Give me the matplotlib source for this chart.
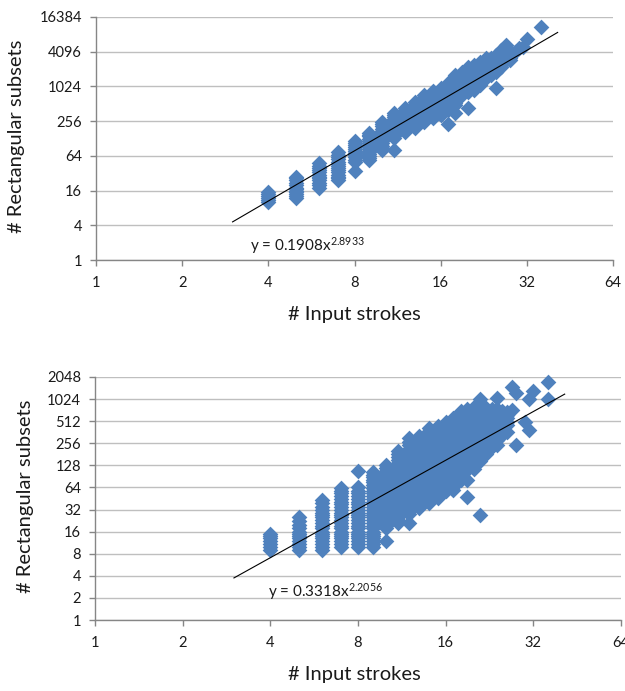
import numpy as np
import matplotlib
matplotlib.use("Agg")
import matplotlib.pyplot as plt
from matplotlib.ticker import FixedLocator, FixedFormatter, NullLocator

plt.rcParams['font.family'] = ['Lato', 'DejaVu Sans']
plt.rcParams['mathtext.fontset'] = 'custom'
plt.rcParams['mathtext.rm'] = 'Lato'
plt.rcParams['mathtext.it'] = 'Lato:italic'

# ---------------- data: top panel ----------------
top_strokes = [4, 5, 6, 7, 8, 9, 10, 11, 12, 13, 14, 15, 16, 17, 18, 19, 20,
               21, 22, 23, 24, 25, 26, 27, 28, 29, 30, 31, 32, 36]
top_subsets = [
    [10, 11, 12, 13, 14, 15],
    [12, 13, 14, 15, 16, 17, 18, 20, 22, 24, 26, 28],
    [18, 20, 22, 24, 26, 28, 30, 33, 36, 39, 43, 48],
    [24, 26, 28, 30, 33, 36, 39, 43, 47, 51, 56, 61, 67, 75],
    [35, 51, 55, 60, 65, 71, 77, 84, 92, 100, 108, 116],
    [54, 59, 64, 70, 76, 83, 90, 98, 107, 117, 128, 140, 150, 160],
    [81, 88, 96, 105, 114, 124, 135, 147, 160, 175, 190, 207, 226, 247],
    [81, 130, 142, 155, 169, 184, 200, 218, 238, 260, 283, 308, 330, 354],
    [166, 180, 196, 214, 233, 254, 277, 302, 329, 358, 395, 433],
    [195, 212, 231, 252, 275, 300, 327, 356, 388, 423, 461, 503, 549],
    [247, 270, 295, 322, 352, 385, 420, 459, 502, 548, 600, 660, 726],
    [290, 317, 346, 378, 413, 451, 493, 538, 588, 642, 701, 770, 852],
    [327, 357, 390, 426, 465, 508, 555, 606, 662, 723, 790, 870, 962],
    [226, 400, 437, 477, 521, 569, 622, 679, 742, 810, 885, 967, 1060, 1175],
    [354, 485, 530, 579, 632, 690, 754, 823, 899, 982, 1073, 1172, 1280,
     1400, 1500, 1615],
    [726, 793, 866, 946, 1033, 1128, 1232, 1346, 1470, 1605, 1700, 1820],
    [433, 820, 896, 978, 1068, 1167, 1274, 1392, 1520, 1660, 1813, 1980,
     2100, 2220],
    [880, 961, 1050, 1147, 1252, 1368, 1494, 1631, 1782, 1946, 2125, 2250,
     2400],
    [1075, 1174, 1282, 1400, 1529, 1670, 1824, 1992, 2175, 2375, 2550, 2710],
    [1430, 1562, 1705, 1863, 2034, 2222, 2426, 2650, 2894, 3050, 3190],
    [1615, 1764, 1926, 2104, 2298, 2509, 2740, 2993, 3190],
    [962, 1820, 1988, 2171, 2371, 2589, 2828, 3088, 3350, 3580],
    [2220, 2424, 2648, 2892, 3158, 3449, 3767, 4070, 4380],
    [2930, 3200, 3495, 3817, 4168, 4552, 4940, 5340],
    [2900, 3200, 3500, 3800],
    [4000],
    [4700],
    [4900],
    [6800],
    [11000],
]
top_coef, top_exp = 0.1908, 2.8933
top_eq = r'y = 0.1908x$^{2.8933}$'

# ---------------- data: bottom panel ----------------
bot_strokes = [4, 5, 6, 7, 8, 9, 10, 11, 12, 13, 14, 15, 16, 17, 18, 19, 20,
               21, 22, 23, 24, 25, 26, 27, 28, 30, 31, 32, 36]
bot_subsets = [
    [9, 10, 11, 12, 13, 14, 15],
    [9, 10, 11, 12, 13, 14, 15, 16, 18, 20, 22, 25],
    [9, 10, 11, 12, 13, 14, 15, 16, 18, 19, 21, 23, 25, 27, 29, 32, 35, 39,
     43],
    [10, 11, 12, 13, 14, 15, 16, 18, 19, 21, 23, 25, 27, 29, 32, 35, 38, 41,
     45, 49, 53, 58, 63],
    [10, 11, 12, 13, 14, 15, 16, 18, 19, 21, 23, 25, 27, 29, 32, 35, 38, 41,
     45, 49, 53, 58, 65, 108],
    [10, 11, 12, 13, 14, 15, 16, 18, 19, 21, 23, 25, 27, 29, 32, 35, 38, 41,
     45, 49, 53, 58, 63, 69, 75, 82, 89, 96, 104],
    [12, 18, 19, 21, 23, 25, 27, 29, 32, 35, 38, 41, 45, 49, 53, 58, 63, 69,
     75, 82, 89, 97, 106, 117, 129],
    [21, 23, 25, 27, 29, 32, 35, 38, 41, 45, 49, 53, 58, 63, 69, 75, 82, 89,
     97, 106, 116, 127, 139, 152, 166, 182, 200],
    [21, 28, 31, 35, 39, 44, 49, 55, 62, 69, 77, 86, 97, 108, 121, 136, 152,
     170, 191, 214, 240, 268, 300],
    [34, 38, 43, 48, 54, 60, 67, 75, 84, 94, 106, 118, 132, 148, 166, 186,
     208, 233, 261, 290, 320],
    [39, 44, 49, 55, 62, 69, 77, 86, 97, 108, 121, 136, 152, 170, 191, 214,
     240, 268, 300, 336, 372, 413],
    [46, 52, 58, 65, 72, 81, 91, 102, 114, 128, 143, 160, 179, 201, 225, 252,
     282, 316, 354, 396, 440],
    [58, 65, 73, 81, 91, 102, 114, 128, 143, 160, 180, 201, 225, 252, 283,
     316, 354, 397, 444, 496],
    [59, 65, 73, 82, 92, 103, 115, 129, 144, 162, 181, 203, 227, 254, 285,
     319, 357, 400, 448, 500, 560],
    [80, 90, 100, 112, 126, 141, 158, 177, 198, 222, 249, 279, 312, 350, 392,
     439, 491, 550, 620, 700],
    [48, 80, 110, 123, 138, 155, 173, 194, 217, 243, 273, 305, 342, 383, 429,
     480, 538, 602, 670, 740],
    [115, 129, 144, 162, 181, 203, 227, 254, 285, 319, 357, 400, 448, 502,
     562, 630, 710, 800],
    [27, 145, 162, 182, 204, 228, 255, 286, 320, 359, 402, 450, 504, 564, 632,
     700, 780, 1024],
    [180, 202, 226, 253, 283, 317, 355, 398, 446, 499, 559, 626, 700, 780],
    [230, 258, 289, 323, 362, 405, 454, 508, 569, 637, 700, 760],
    [242, 280, 314, 351, 393, 441, 493, 553, 619, 680, 740, 1050],
    [330, 370, 414, 464, 520, 582, 640, 700],
    [363, 450, 504, 564, 620, 680],
    [724, 1490],
    [242, 1235],
    [496],
    [388, 1024],
    [1300],
    [1024, 1740],
]
bot_coef, bot_exp = 0.3318, 2.2056
bot_eq = r'y = 0.3318x$^{2.2056}$'

x_ticks = [1, 2, 4, 8, 16, 32, 64]
top_y_ticks = [1, 4, 16, 64, 256, 1024, 4096, 16384]
bot_y_ticks = [1, 2, 4, 8, 16, 32, 64, 128, 256, 512, 1024, 2048]
trend_range = [3, 41]

xlabel = '# Input strokes'
ylabel = '# Rectangular subsets'

MARKER_COLOR = '#4F81BD'
GRID_COLOR = '#BFBFBF'
AXIS_COLOR = '#868686'
TEXT_COLOR = '#1a1a1a'

fig = plt.figure(figsize=(6.25, 6.91), dpi=100)
ax1 = fig.add_axes([96 / 625, (691 - 260) / 691, 517 / 625, 243 / 691])
ax2 = fig.add_axes([95 / 625, (691 - 620) / 691, 526 / 625, 243 / 691])


def draw(ax, strokes, subsets, coef, expo, yticks, eq, eq_pos, xl_pos, yl_pos):
    ax.set_xscale('log', base=2)
    ax.set_yscale('log', base=2)
    ax.set_xlim(x_ticks[0], x_ticks[-1])
    ax.set_ylim(yticks[0], yticks[-1])

    xs = [x for x, col in zip(strokes, subsets) for _ in col]
    ys = [y for col in subsets for y in col]
    ax.scatter(xs, ys, marker='D', s=64, color=MARKER_COLOR, linewidths=0,
               zorder=3, clip_on=False)

    tx = np.array(trend_range, dtype=float)
    ax.plot(tx, coef * tx ** expo, color='black', lw=0.8, zorder=4)

    ax.text(eq_pos[0], eq_pos[1], eq, fontsize=11, ha='left', va='center',
            color=TEXT_COLOR, zorder=5)

    ax.xaxis.set_major_locator(FixedLocator(x_ticks))
    ax.xaxis.set_major_formatter(FixedFormatter([str(v) for v in x_ticks]))
    ax.xaxis.set_minor_locator(NullLocator())
    ax.yaxis.set_major_locator(FixedLocator(yticks))
    ax.yaxis.set_major_formatter(FixedFormatter([str(v) for v in yticks]))
    ax.yaxis.set_minor_locator(NullLocator())

    ax.grid(axis='y', color=GRID_COLOR, lw=1.0, zorder=0)
    ax.set_axisbelow(True)
    for s in ['top', 'right']:
        ax.spines[s].set_visible(False)
    for s in ['left', 'bottom']:
        ax.spines[s].set_color(AXIS_COLOR)
        ax.spines[s].set_linewidth(1.0)
    ax.tick_params(axis='both', direction='out', length=4.5, width=1.0,
                   color=AXIS_COLOR, labelsize=10.5, labelcolor=TEXT_COLOR)
    ax.tick_params(axis='y', pad=5.5)
    ax.tick_params(axis='x', pad=7)

    ax.text(xl_pos[0], xl_pos[1], xlabel, transform=ax.transAxes,
            ha='center', va='center', fontsize=14.5, color=TEXT_COLOR)
    ax.text(yl_pos[0], yl_pos[1], ylabel, transform=ax.transAxes,
            ha='center', va='center', rotation=90, fontsize=14.5,
            color=TEXT_COLOR)


draw(ax1, top_strokes, top_subsets, top_coef, top_exp, top_y_ticks, top_eq,
     (3.45, 1.75), (0.499, -0.226), (-0.153, 0.51))
draw(ax2, bot_strokes, bot_subsets, bot_coef, bot_exp, bot_y_ticks, bot_eq,
     (3.93, 2.41), (0.494, -0.226), (-0.133, 0.51))

fig.savefig('out.png', dpi=100)
